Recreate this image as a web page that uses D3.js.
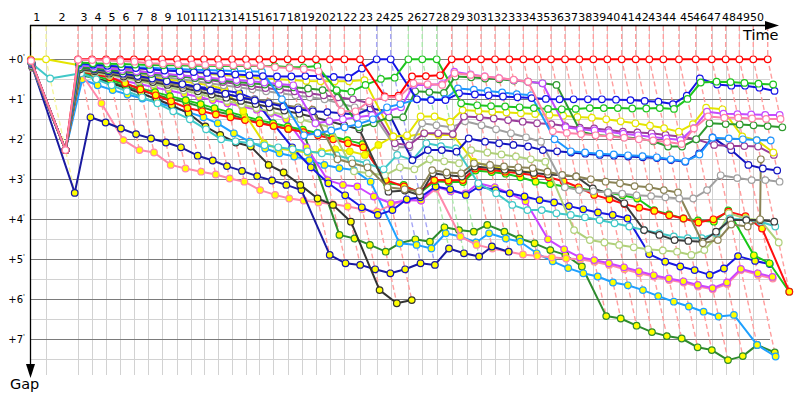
<!DOCTYPE html>
<html><head><meta charset="utf-8">
<script src="https://cdn.jsdelivr.net/npm/d3@7"></script>
<style>body{margin:0;background:#fff}svg{display:block}</style>
</head><body>
<svg id="c" width="800" height="400"></svg>
<script>
// Leader's elapsed time (minutes) at each lap 1..51
const lapTimes = [0,1.78,5.50,7.13,8.76,10.38,12.01,13.64,15.27,17.01,18.64,20.15,21.78,23.41,25.03,26.58,28.21,29.88,31.51,33.17,34.80,36.47,38.29,40.23,41.86,43.91,45.53,47.21,48.95,50.77,52.36,53.99,55.65,57.28,58.91,60.50,62.13,63.79,65.42,67.05,68.72,70.35,71.93,73.56,75.38,77.33,79.19,80.81,82.40,84.02,85.70];
const lapLabels = d3.range(1,51).map(String);
// time position of each lap label (minutes)
const labelTimes = [0,2.94,5.50,7.13,8.76,10.38,12.01,13.64,15.27,17.01,18.64,20.15,21.78,23.41,25.03,26.58,28.21,29.88,31.51,33.17,34.80,36.47,38.29,40.23,41.86,43.91,45.53,47.21,48.95,50.77,52.36,53.99,55.65,57.28,58.91,60.50,62.13,63.79,65.42,67.05,68.72,70.35,71.93,73.56,75.62,77.13,78.76,80.50,82.13,83.76];
const gapTicks = [0,1,2,3,4,5,6,7];
const gapMinor = [0.5,1.5,2.5,3.5,4.5,5.5,6.5,7.5];

// gaps (minutes) to leader, lap 1..n
const redW = [0.03,2.27, 0,0,0,0,0,0,0,0,0,0,0,0,0,0,0,0,0,0,0,0,0, 0.93,0.91,0.43,0.42,0.40, 0,0,0,0,0,0,0,0,0,0,0,0,0,0,0,0,0,0,0,0,0,0,0];
const greenW = [0.05,2.27, 0.08,0.10,0.11,0.12,0.13,0.14,0.15,0.15,0.16,0.16,0.17,0.17,0.17,0.17,0.17,0.20,0.20,0.17, 0.77,0.81,0.64,0.49,0.46, 0,0,0, 1.10,1.15,1.17,1.18,1.20,1.22,1.24,1.25,1.24,1.22,1.22,1.22,1.23,1.23,1.22,1.24, 0.99,0.58,0.56,0.57,0.59,0.61,0.63];
const blueW = [0.04,2.27, 0.10,0.13,0.16,0.19,0.22,0.25,0.28,0.30,0.32,0.34,0.36,0.38,0.40,0.42, 0.43,0.43,0.42,0.42,0.44,0.46, 0.23, 0,0, 1.00,1.02,1.02, 0.85,0.88,0.90,0.93,0.95,0.97,0.99,1.00,1.00,1.00,1.00,1.01,1.02,1.04,1.06,1.12, 0.91,0.48,0.63,0.66,0.66,0.71,0.79];
const skyW = [0.06,2.27, 0.12,0.14,0.16,0.18,0.20,0.21,0.23,0.24,0.26,0.27,0.28,0.29,0.30,0.31, 1.00,1.90,1.85,1.78,1.70,1.62,1.50, 1.20,1.12, 1.00,1.00,0.99, 0.73,0.76,0.79,0.83,0.87,0.90, 2.00,2.30,2.33,2.36,2.38,2.40,2.42,2.45,2.50,2.55, 2.38,1.96,1.98,2.00,2.02,2.03];
const pinkW = [0.04,2.27, 0.01,0.02,0.03,0.04,0.06,0.10,0.11,0.12,0.13,0.14,0.14,0.15,0.15,0.16, 0.20,0.22,0.25,0.30, 1.30,1.30,1.05,0.95,0.95, 0.60,0.62,0.64, 0.35,0.39,0.43,0.47,0.51,0.56, 1.80,1.84,1.87,1.90,1.93,1.96,2.00,2.03,2.07,2.12, 1.73,1.43,1.46,1.46,1.48,1.49,1.49];
const violetW = [0.06,2.27, 0.15,0.18,0.22,0.26,0.30,0.33,0.37,0.40,0.43,0.46,0.49,0.52,0.55,0.58, 0.62,0.65, 1.60,1.55,1.50,1.45,1.40,1.30,1.20, 0.64,0.64,0.62, 0.31,0.38,0.43,0.47,0.52,0.56,0.60, 1.70,1.75,1.78,1.82,1.86,1.90,1.94,1.98,2.02, 1.72,1.31,1.36,1.37,1.38,1.39,1.39];
const darkgreenW = [0.08,2.27, 0.20,0.23,0.27,0.30,0.33,0.37,0.40,0.43,0.47,0.50,0.53,0.57,0.60,0.63,0.67,0.70,0.73,0.77,0.80, 1.70,1.60,1.45,1.45, 0.80,0.82,0.84, 0.43,0.45,0.48,0.50,0.53,0.56,0.60,0.64, 1.81,1.89,1.92,1.95,1.98,2.05,2.18,2.18, 2.00,1.60,1.62,1.63,1.65,1.67,1.70];
const yellowW = [0,0, 0.15,0.17,0.19,0.21,0.23,0.25,0.28,0.30,0.33,0.36,0.39,0.42,0.45,0.48,0.50,0.52,0.54,0.55,0.55,0.55,0.52, 1.93,1.90, 1.43,1.43,1.56, 1.27,1.29,1.31,1.33,1.35,1.37,1.39,1.41,1.44,1.46,1.50,1.55,1.60,1.66,1.72,1.81, 1.62,1.21,1.25,1.93,2.02,2.33];
const purpleW = [0.10,2.27, 0.12,0.16,0.20,0.25,0.29,0.33,0.37,0.42,0.47,0.52,0.57,0.62,0.67,0.72,0.76,0.80,0.85,0.90,0.95,1.00,1.10, 2.10,2.15, 1.85,1.85,1.87, 1.43,1.45,1.48,1.52,1.56,1.60,1.62,1.67,1.71,1.73,1.77,1.81,1.83,1.85,1.89,1.93, 2.00,2.14,2.17,2.17,2.18,2.39];
const navyW = [0.12,2.27, 0.20,0.25,0.30,0.36,0.42,0.48,0.55,0.62,0.70,0.78,0.86,0.95,1.03,1.10,1.18,1.25,1.30,1.32,1.35,1.38,1.23, 1.30,2.52, 2.27,2.27,2.31, 1.98,2.06,2.10,2.14,2.18,2.27,2.30,2.33,2.36,2.39,2.41,2.43,2.45,2.47,2.52,2.56, 2.35,1.95,2.27,2.64,2.73,2.78];
const grayW = [0.14,2.27, 0.18,0.22,0.26,0.30,0.35,0.40,0.45,0.50,0.55,0.60,0.65,0.70,0.75,0.80,0.85,0.90,0.95,1.00,1.10,1.20,1.31, 2.20,2.20, 1.60,1.65,1.70, 1.55,1.65,1.75,1.85,1.95,2.06,3.20,3.27,3.30,3.33,3.36,3.40,3.42,3.45,3.48,3.48, 3.27,2.90,2.97,3.02,3.02,3.06];
const oliveW = [0.16,2.27, 0.22,0.27,0.33,0.39,0.45,0.52,0.59,0.66,0.73,0.80,0.87,0.94,1.00,1.07,1.14,1.20,1.26, 2.50,2.60,2.70,3.20,3.25,3.30, 2.77,2.83,2.85, 2.60,2.64,2.68,2.70,2.72,2.81,2.89,2.93,3.00,3.06,3.10,3.17,3.20,3.27,3.33, 4.60,4.52,4.13,4.18,4.00,2.50];
const darkgrayW = [0.18,2.27, 0.25,0.30,0.36,0.43,0.50,0.57,0.64,0.72,0.80,0.88,0.96,1.04,1.12,1.20,1.28,1.36,1.45,1.55,1.65,1.75, 3.31,3.28,3.40, 2.85,2.90,2.93, 2.68,2.72,2.76,2.80,2.84,2.88,2.90,2.93, 3.23,3.35,3.60,4.27,4.39,4.52,4.54,4.56, 4.31,4.02,4.02,4.02,4.06];
const cyanW = [0.10,0.48, 0.35,0.50,0.65,0.80,0.95,1.10,1.30,1.50,1.75,2.00,2.05,2.10,2.15,2.20,2.25,2.30,2.35,2.40,2.50,2.60,2.75, 2.39,2.52, 2.10,2.17,2.23, 3.10,3.35,3.64,3.77,3.77,3.85,3.89,3.95,4.02,4.10,4.18,4.27,4.35,4.43,4.47,4.47, 4.35,3.98,4.02,4.06,4.18];
const palegreenW = [0.20,2.27, 0.28,0.34,0.40,0.47,0.54,0.62,0.70,0.78,0.86,0.95,1.04,1.13,1.22,1.31,1.40,1.50,1.60,1.70, 2.80,2.85,2.90,2.70,2.75, 2.50,2.55,2.60, 2.27,2.33,2.38,2.43,2.50,2.56, 4.27,4.52,4.58,4.64,4.70,4.75,4.78,4.81,4.89,4.77, 4.43,3.85,3.98,4.02,4.58];
const navyY = [0.20,3.34, 1.45,1.58,1.73,1.87,1.98,2.08,2.20,2.41,2.53,2.67,2.79,2.92,3.03,3.14,3.27, 4.89,5.10,5.14,5.25,5.35,5.25,5.10,5.14, 4.73,4.85,4.93,4.68,4.81];
const pinkY = [0.22,2.27, 0.35,1.10,2.02,2.27,2.33,2.64,2.73,2.81,2.88,2.98,3.06,3.27,3.39,3.48,3.53,3.58,3.62,3.68,3.75,3.81,3.64,3.52,3.53, 3.23,4.43,4.64,4.73,4.81,4.88,4.92,4.95,4.98, 5.00,5.06,5.14,5.25,5.35,5.43,5.52,5.58,5.68,5.75, 5.62,5.27,5.39,5.48];
const magentaY = [0.12,2.27, 0.30,0.38,0.46,0.54,0.62,0.70,0.78,0.86,0.94,1.02,1.10,1.18,1.26,1.34,1.50,2.20, 3.02,3.14,3.18,3.43,3.60,3.52,3.53, 3.18,3.30,3.35,3.10,3.20,3.35,3.55,4.50,4.75, 4.95,5.02,5.10,5.20,5.30,5.40,5.48,5.55,5.64,5.72, 5.58,5.24,5.35,5.44];
const blackY = [0.15,2.27, 0.31,0.48,0.60,0.72,0.85,1.00,1.15,1.35,1.68,1.89,2.08,2.18,2.64,2.83,3.14,3.48,3.64,4.06,5.77,6.10,6.02];
const darkgreenY = [0.10,2.27, 0.40,0.48,0.57,0.68,0.79,0.88,0.99,1.08,1.19,1.30,1.38,1.49,1.58,1.66,1.74,1.80, 4.39,4.48,4.64,4.81,4.60,4.50,4.56,4.20,4.27,4.31,4.14,4.31,4.48,4.60,4.77,4.89,5.18, 6.42,6.48,6.66,6.82,6.92,6.98,7.20,7.27,7.52,7.42,7.14,7.33];
const skyY = [0.10,2.27, 0.50,0.65,0.77,0.88,0.98,1.08,1.20,1.32,1.45,1.60,1.85,2.06,2.23,2.35,2.43,2.52,2.64,2.72,2.77,3.06, 4.60,4.64,4.73,4.35,4.43,4.58,4.35,4.48,4.56,4.85,5.05,5.22, 5.35,5.43,5.58,5.65,5.77,5.92,6.06,6.18,6.31,6.43,6.39,7.14,7.43];
const redY = [0.14,2.27, 0.30,0.38,0.45,0.60,0.75,0.90,1.05,1.22,1.30,1.38,1.45,1.52,1.60,1.67,1.74,1.82,1.90,2.00,2.10,2.20, 3.02,3.18,3.31, 3.02,3.03,3.02, 2.73,2.77,2.81,2.85,2.90,2.95,3.05,3.20,3.39,3.50,3.62,3.71,3.79,3.90,3.98,4.08, 4.00,3.81,3.92,4.23,5.81];
const greenY = [0.16,2.27, 0.32,0.42,0.52,0.62,0.72,0.82,0.92,1.02,1.12,1.22,1.32,1.42,1.52,1.60,1.68,1.76,1.84,1.93,2.02,2.12, 3.10,3.14,3.35, 3.05,3.07,3.07, 2.78,2.82,2.86,2.95,3.06,3.12,3.18,3.23,3.28,3.33,3.40,3.48,3.77,3.88,3.98,4.03, 4.06,3.78,4.90,5.10,5.81];
const blueY = [0.20,2.27, 0.28,0.33,0.38,0.43,0.48,0.53,0.58,0.63,0.68,0.73,0.78,0.84,1.00,1.60,2.20,2.70,3.10,3.40,3.70,3.89,3.77,3.50,3.45, 3.18,3.25,3.39, 3.18,3.27,3.35,3.43,3.52,3.58,3.67,3.75,3.83,3.89,3.98,4.87,5.06,5.18,5.27,5.39, 5.23,4.92,5.04,5.12];
const yellowY = [0.08,2.27, 0.20,0.25,0.30,0.35,0.40,0.45,0.50,0.55,0.60,0.65,0.75,1.30,2.10,2.23,2.28,2.33,2.31,2.25,2.30,2.39,2.14, 1.93,1.93,1.85,1.89,1.89, 2.56,2.68,2.75,2.81,2.81];

const WHITE = "#ffffff", YEL = "#ffff00";
// drawn back to front
const series = [
  {gaps: darkgreenY, color:"#2e8b2e", fill:YEL},
  {gaps: skyY,       color:"#1ea0ff", fill:YEL},
  {gaps: pinkY,      color:"#ff88aa", fill:YEL},
  {gaps: magentaY,   color:"#cc44ff", fill:YEL},
  {gaps: navyY,      color:"#1a1aa0", fill:YEL},
  {gaps: blackY,     color:"#333333", fill:YEL},
  {gaps: blueY,      color:"#1818e0", fill:YEL},
  {gaps: greenY,     color:"#18c818", fill:YEL},
  {gaps: redY,       color:"#ff1010", fill:YEL},
  {gaps: yellowY,    color:"#e4e400", fill:YEL},
  {gaps: palegreenW, color:"#b0d07a", fill:WHITE},
  {gaps: cyanW,      color:"#40c8c8", fill:WHITE},
  {gaps: darkgrayW,  color:"#3c3c3c", fill:WHITE},
  {gaps: oliveW,     color:"#8b8456", fill:WHITE},
  {gaps: grayW,      color:"#a0a0a0", fill:WHITE},
  {gaps: navyW,      color:"#1414c0", fill:WHITE},
  {gaps: purpleW,    color:"#9a3d9a", fill:WHITE},
  {gaps: yellowW,    color:"#e4e400", fill:WHITE},
  {gaps: darkgreenW, color:"#2e9a2e", fill:WHITE},
  {gaps: violetW,    color:"#c54bff", fill:WHITE},
  {gaps: skyW,       color:"#1e96ff", fill:WHITE},
  {gaps: blueW,      color:"#1414e6", fill:WHITE},
  {gaps: greenW,     color:"#1ec51e", fill:WHITE},
  {gaps: redW,       color:"#ff0000", fill:WHITE},
  {gaps: pinkW,      color:"#ff80a8", fill:WHITE}
];

const svg = d3.select("#c");
const x = d3.scaleLinear().domain([0,86]).range([30.7,770.3]);
const y = d3.scaleLinear().domain([0,7.9]).range([59.3,375.3]);
const font = "DejaVu Sans, Verdana, sans-serif";
const crisp = v => Math.round(v)+0.5;

// grid
const grid = svg.append("g");
grid.selectAll(".vg").data(lapTimes.slice(1,50)).join("line")
  .attr("x1",d=>crisp(x(d))).attr("x2",d=>crisp(x(d)))
  .attr("y1",26).attr("y2",375).attr("stroke","#d2d2d2").attr("stroke-width",1);
grid.selectAll(".hm").data(gapMinor).join("line")
  .attr("x1",30).attr("x2",770).attr("y1",d=>crisp(y(d))).attr("y2",d=>crisp(y(d)))
  .attr("stroke","#d2d2d2").attr("stroke-width",1);
grid.selectAll(".hM").data(gapTicks).join("line")
  .attr("x1",30).attr("x2",770).attr("y1",d=>crisp(y(d))).attr("y2",d=>crisp(y(d)))
  .attr("stroke","#7a7a7a").attr("stroke-width",1);

// lap lines (dashed, coloured after the leader of the lap)
const lapG = svg.append("g");
lapTimes.forEach((t,i)=>{
  const present = series.filter(s => s.gaps[i] != null);
  if (!present.length) return;
  let leader = present[0], maxG = 0;
  present.forEach(s=>{ if (s.gaps[i] < leader.gaps[i]) leader = s; if (s.gaps[i] > maxG) maxG = s.gaps[i]; });
  const col = d3.interpolateRgb(leader.color, "#ffffff")(0.62);
  lapG.append("path")
    .attr("d", `M${x(t)},26 L${x(t)},${y(0)} L${x(t+maxG)},${y(maxG)}`)
    .attr("fill","none").attr("stroke",col).attr("stroke-width",1.4)
    .attr("stroke-dasharray","5,3");
});

// axes
const ax = svg.append("g");
ax.append("line").attr("x1",30).attr("x2",767).attr("y1",25.5).attr("y2",25.5).attr("stroke","#000").attr("stroke-width",1.3);
ax.append("path").attr("d","M779,25.5 L765,21 L765,30 Z").attr("fill","#000");
ax.append("line").attr("x1",30.5).attr("x2",30.5).attr("y1",25).attr("y2",366).attr("stroke","#000").attr("stroke-width",1.3);
ax.append("path").attr("d","M30.5,378 L26,364 L35,364 Z").attr("fill","#000");

ax.selectAll(".lt").data(lapLabels).join("text")
  .attr("x",(d,i)=>x(labelTimes[i])+6).attr("y",21)
  .attr("text-anchor","middle").attr("font-family",font).attr("font-size",11)
  .attr("fill","#000").text(d=>d);

const yl = ax.selectAll(".yl").data(gapTicks).join("text")
  .attr("x",25).attr("y",d=>y(d)+4).attr("text-anchor","end")
  .attr("font-family",font).attr("font-size",10).attr("fill","#000");
yl.append("tspan").text(d=>"+"+d);
yl.append("tspan").attr("font-size",7).attr("dy",-4).text("'");

ax.append("text").attr("x",743).attr("y",40).attr("font-family",font).attr("font-size",14.5).text("Time");
ax.append("text").attr("x",10).attr("y",389).attr("font-family",font).attr("font-size",14.5).text("Gap");

// series
const line = d3.line().defined(d=>d!=null).x(d=>x(d.t)).y(d=>y(d.g));
series.forEach(s=>{
  const pts = s.gaps.map((g,i)=> g==null ? null : {t: lapTimes[i]+g, g});
  const gg = svg.append("g");
  gg.append("path").attr("d", line(pts)).attr("fill","none")
    .attr("stroke", s.color).attr("stroke-width",2).attr("stroke-linejoin","round");
  gg.selectAll("circle").data(pts.filter(p=>p)).join("circle")
    .attr("cx",d=>x(d.t)).attr("cy",d=>y(d.g)).attr("r",3.3)
    .attr("fill", s.fill).attr("stroke", s.color).attr("stroke-width",1.2);
});
</script>
</body></html>
